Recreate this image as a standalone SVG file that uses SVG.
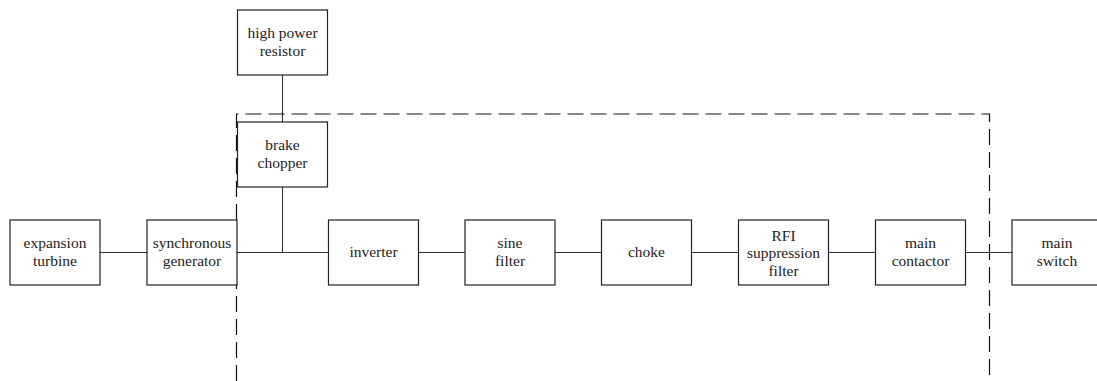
<svg xmlns="http://www.w3.org/2000/svg" width="1097" height="381" viewBox="0 0 1097 381">
<style>
.box{fill:#fff;stroke:#222;stroke-width:1.2}
.lbl{font-family:"Liberation Serif","Times New Roman",serif;font-size:15.5px;fill:#222;text-anchor:middle}
.wire{stroke:#333;stroke-width:1.1;fill:none}
.dash{stroke:#111;stroke-width:1.2;fill:none;stroke-dasharray:16 7}
</style>
<rect width="1097" height="381" fill="#fff"/>
<g id="connectors">
<line class="wire" x1="100" y1="252.5" x2="147" y2="252.5"/>
<line class="wire" x1="237" y1="252.5" x2="328.5" y2="252.5"/>
<line class="wire" x1="418.5" y1="252.5" x2="465" y2="252.5"/>
<line class="wire" x1="555" y1="252.5" x2="601.5" y2="252.5"/>
<line class="wire" x1="691.5" y1="252.5" x2="738.5" y2="252.5"/>
<line class="wire" x1="828.5" y1="252.5" x2="875.5" y2="252.5"/>
<line class="wire" x1="965.5" y1="252.5" x2="1012" y2="252.5"/>
<line class="wire" x1="282.5" y1="75" x2="282.5" y2="122"/>
<line class="wire" x1="282.5" y1="187" x2="282.5" y2="252.5"/>
</g>
<g id="boundary">
<path class="dash" d="M236.5,381 V114 H989.5 V381"/>
</g>
<g id="expansion-turbine">
<rect class="box" x="10" y="220" width="90" height="65"/>
<text class="lbl" x="55" y="248">expansion</text>
<text class="lbl" x="55" y="265.5">turbine</text>
</g>
<g id="synchronous-generator">
<rect class="box" x="147" y="220" width="90" height="65"/>
<text class="lbl" x="192" y="248">synchronous</text>
<text class="lbl" x="192" y="265.5">generator</text>
</g>
<g id="high-power-resistor">
<rect class="box" x="237.5" y="10" width="90" height="65"/>
<text class="lbl" x="282.5" y="38">high power</text>
<text class="lbl" x="282.5" y="55.5">resistor</text>
</g>
<g id="brake-chopper">
<rect class="box" x="237.5" y="122" width="90" height="65"/>
<text class="lbl" x="282.5" y="150">brake</text>
<text class="lbl" x="282.5" y="167.5">chopper</text>
</g>
<g id="inverter">
<rect class="box" x="328.5" y="220" width="90" height="65"/>
<text class="lbl" x="373.5" y="257">inverter</text>
</g>
<g id="sine-filter">
<rect class="box" x="465" y="220" width="90" height="65"/>
<text class="lbl" x="510" y="248">sine</text>
<text class="lbl" x="510" y="265.5">filter</text>
</g>
<g id="choke">
<rect class="box" x="601.5" y="220" width="90" height="65"/>
<text class="lbl" x="646.5" y="257">choke</text>
</g>
<g id="rfi-suppression-filter">
<rect class="box" x="738.5" y="220" width="90" height="65"/>
<text class="lbl" x="783.5" y="240.5">RFI</text>
<text class="lbl" x="783.5" y="258">suppression</text>
<text class="lbl" x="783.5" y="275.5">filter</text>
</g>
<g id="main-contactor">
<rect class="box" x="875.5" y="220" width="90" height="65"/>
<text class="lbl" x="920.5" y="248">main</text>
<text class="lbl" x="920.5" y="265.5">contactor</text>
</g>
<g id="main-switch">
<rect class="box" x="1012" y="220" width="90" height="65"/>
<text class="lbl" x="1057" y="248">main</text>
<text class="lbl" x="1057" y="265.5">switch</text>
</g>
</svg>
